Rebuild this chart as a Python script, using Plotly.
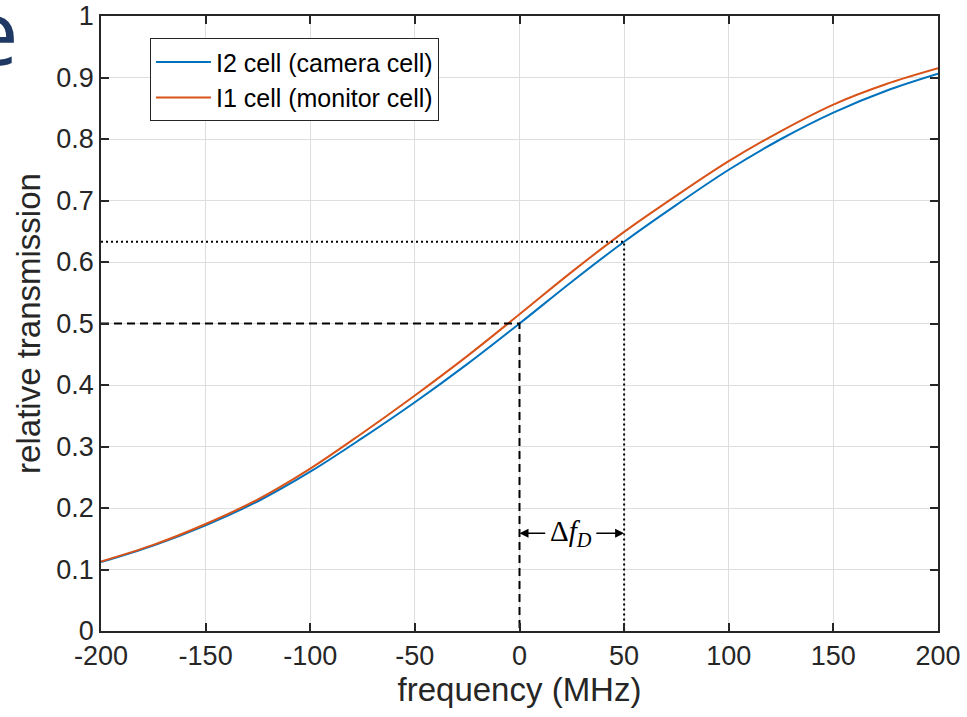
import plotly.graph_objects as go

freq = [-200, -175, -150, -125, -100, -75, -50, -25, 0, 25, 50, 75, 100, 125, 150, 175, 200]
i2_camera = [0.112, 0.139, 0.172, 0.211, 0.259, 0.314, 0.372, 0.434, 0.500, 0.568, 0.633, 0.693, 0.750, 0.800, 0.843, 0.878, 0.906]
i1_monitor = [0.113, 0.140, 0.174, 0.214, 0.264, 0.322, 0.383, 0.447, 0.515, 0.584, 0.649, 0.708, 0.764, 0.813, 0.856, 0.889, 0.915]

x_ticks = [-200, -150, -100, -50, 0, 50, 100, 150, 200]
y_ticks = [0, 0.1, 0.2, 0.3, 0.4, 0.5, 0.6, 0.7, 0.8, 0.9, 1]
y_tick_text = ["0", "0.1", "0.2", "0.3", "0.4", "0.5", "0.6", "0.7", "0.8", "0.9", "1"]

half_level = 0.5
half_freq = 0
dop_level = 0.633
dop_freq = 50
arrow_level = 0.159

FONT = "Liberation Sans, Arial, sans-serif"

fig = go.Figure()
fig.add_trace(go.Scatter(x=freq, y=i2_camera, mode="lines", name="I2 cell (camera cell)",
                         line=dict(color="#0072BD", width=2, shape="spline", smoothing=1.0)))
fig.add_trace(go.Scatter(x=freq, y=i1_monitor, mode="lines", name="I1 cell (monitor cell)",
                         line=dict(color="#D95319", width=2, shape="spline", smoothing=1.0)))

# guide lines
fig.add_trace(go.Scatter(x=[-200, half_freq, half_freq], y=[half_level, half_level, 0], mode="lines",
                         line=dict(color="black", width=2, dash="8px,5px"), showlegend=False, hoverinfo="skip"))
fig.add_trace(go.Scatter(x=[-200, dop_freq, dop_freq], y=[dop_level, dop_level, 0], mode="lines",
                         line=dict(color="black", width=2, dash="2px,3px"), showlegend=False, hoverinfo="skip"))

fig.update_layout(
    width=967, height=717,
    margin=dict(l=101, r=29, t=16, b=86, autoexpand=False),
    paper_bgcolor="white", plot_bgcolor="white",
    font=dict(family=FONT, color="#262626", size=24),
    legend=dict(x=0.0585, y=0.964, xanchor="left", yanchor="top",
                bgcolor="white", bordercolor="#262626", borderwidth=1,
                font=dict(family=FONT, size=25, color="#000000"),
                tracegroupgap=0, itemwidth=55),
    xaxis=dict(range=[-200, 200], tickvals=x_ticks, ticktext=[str(v) for v in x_ticks],
               showgrid=True, gridcolor="#dedede", gridwidth=1, automargin=False,
               showline=True, linecolor="#262626", linewidth=1.5, mirror="ticks",
               ticks="inside", ticklen=8, tickwidth=1.5, tickcolor="#262626",
               zeroline=False, tickfont=dict(size=27, color="#262626"),
               title=dict(text="frequency (MHz)", font=dict(size=33, color="#262626"), standoff=8)),
    yaxis=dict(range=[0, 1], tickvals=y_ticks, ticktext=y_tick_text,
               showgrid=True, gridcolor="#dedede", gridwidth=1, automargin=False,
               showline=True, linecolor="#262626", linewidth=1.5, mirror="ticks",
               ticks="inside", ticklen=8, tickwidth=1.5, tickcolor="#262626",
               zeroline=False, tickfont=dict(size=27, color="#262626"),
               title=dict(text="relative transmission", font=dict(size=33, color="#262626"), standoff=6)),
)

# delta f_D arrows and label
fig.add_annotation(x=0, y=arrow_level, ax=13, ay=arrow_level, xref="x", yref="y", axref="x", ayref="y",
                   text="", showarrow=True, arrowhead=2, arrowsize=1.2, arrowwidth=1.5, arrowcolor="black")
fig.add_annotation(x=50, y=arrow_level, ax=36, ay=arrow_level, xref="x", yref="y", axref="x", ayref="y",
                   text="", showarrow=True, arrowhead=2, arrowsize=1.2, arrowwidth=1.5, arrowcolor="black")
fig.add_annotation(x=24.5, y=arrow_level, xref="x", yref="y", showarrow=False,
                   text="Δ<i>f</i><sub><i>D</i></sub>",
                   font=dict(family="Liberation Serif, Times New Roman, serif", size=29, color="black"))

# partial slide title letter at top-left
fig.add_annotation(x=-0.129, y=0.978, xref="paper", yref="paper", showarrow=False, text="e",
                   font=dict(family="Open Sans, sans-serif", size=90, color="#1F3864"),
                   xanchor="center", yanchor="middle")

fig.write_html("out.html")
